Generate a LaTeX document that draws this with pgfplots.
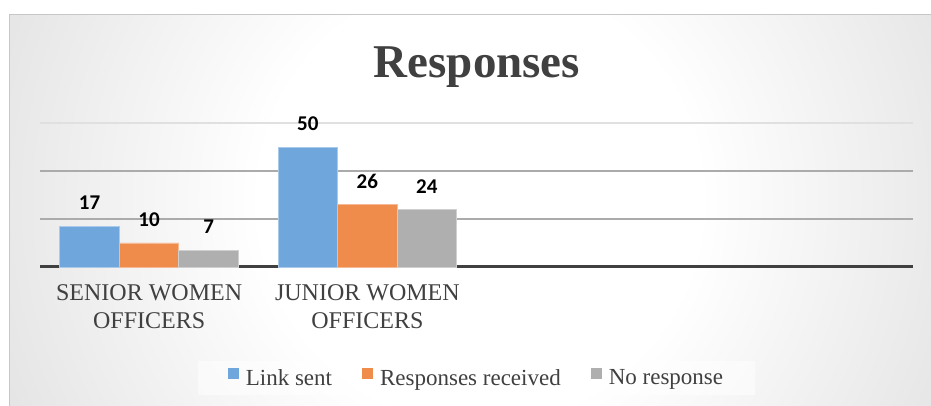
\documentclass[border=0pt]{standalone}
\usepackage{fontspec}
\setmainfont{Liberation Serif}
\newfontfamily\tnr{Liberation Serif}
\newfontfamily\calibri{Carlito}
\usepackage{pgfplots}
\pgfplotsset{compat=1.18}
\usetikzlibrary{backgrounds}
\definecolor{cblue}{HTML}{6FA7DC}
\definecolor{corange}{HTML}{EF8C4C}
\definecolor{cgray}{HTML}{AFAFAF}
\definecolor{txt}{HTML}{404040}
\pgfdeclareradialshading{bgshade}{\pgfpoint{0bp}{0bp}}{color(0bp)=(white); color(11bp)=(white); color(45bp)=(black!24); color(50bp)=(black!24)}
\begin{document}
\begin{tikzpicture}[x=1pt,y=1pt]
\begin{axis}[
  scale only axis, width=873pt, height=144pt,
  xmin=-0.5, xmax=3.5, ymin=0, ymax=60,
  axis x line*=bottom, axis y line*=left,
  x axis line style={-, line width=3pt, color=txt},
  y axis line style={draw=none},
  xtick={0,1}, xticklabels={{\tnr SENIOR WOMEN\\\tnr OFFICERS},{\tnr JUNIOR WOMEN\\\tnr OFFICERS}},
  xticklabel style={font=\tnr\fontsize{24}{28}\selectfont, text=txt, align=center, inner sep=0, anchor=north, yshift=-17pt},
  major tick length=0pt,
  ytick={20,40}, yticklabels={},
  extra y ticks={60}, extra y tick labels={},
  extra y tick style={grid style={color=black!12, line width=1.3pt}},
  ymajorgrids, grid style={color=black!33, line width=1.3pt},
  ybar=0pt, bar width=59.5pt,
  /pgf/number format/assume math mode=true,
  nodes near coords={\calibri\bfseries\pgfmathprintnumber{\pgfplotspointmeta}},
  every node near coord/.append style={font=\fontsize{21}{23}\selectfont, text=black, anchor=south, inner sep=0, yshift=16pt},
  legend columns=3,
  legend style={at={(0.5,-0.771)}, anchor=center, fill=white, fill opacity=0.5, text opacity=1, draw=none, font=\tnr\fontsize{23}{25}\selectfont, text=txt, inner xsep=30pt, inner ysep=6pt,
    /tikz/every odd column/.append style={column sep=5pt},
    /tikz/every even column/.append style={column sep=28pt}},
  legend image code/.code={\fill[#1, draw=none, fill opacity=1] (0pt,-1pt) rectangle (11pt,10pt);},
  clip=false,
]
\addplot[fill=cblue, draw=cblue!60!white, line width=0.8pt] coordinates {(0,17) (1,50)};
\addplot[fill=corange, draw=corange!60!white, line width=0.8pt] coordinates {(0,10) (1,26)};
\addplot[fill=cgray, draw=cgray!60!white, line width=0.8pt] coordinates {(0,7) (1,24)};
\legend{{\tnr Link sent}, {\tnr Responses received}, {\tnr No response}}
\coordinate (axO) at (rel axis cs:0,0);
\end{axis}
\begin{scope}[shift={(axO)}, xshift=-40pt, yshift=-139pt]
\begin{pgfonlayer}{background}
\fill[white] (0,0) rectangle (931,406);
\begin{scope}
\clip (9,0) rectangle (931,391);
\shade[shading=bgshade] (-20,-294) rectangle (980,706);
\end{scope}
\draw[black!22, line width=1pt] (9,0) -- (9,391) -- (931,391);
\end{pgfonlayer}
\node[font=\tnr\bfseries\fontsize{47}{50}\selectfont, text=txt, anchor=base, inner sep=0] at (477,328) {Responses};
\pgfresetboundingbox
\useasboundingbox (0,0) rectangle (931,406);
\end{scope}
\end{tikzpicture}
\end{document}
